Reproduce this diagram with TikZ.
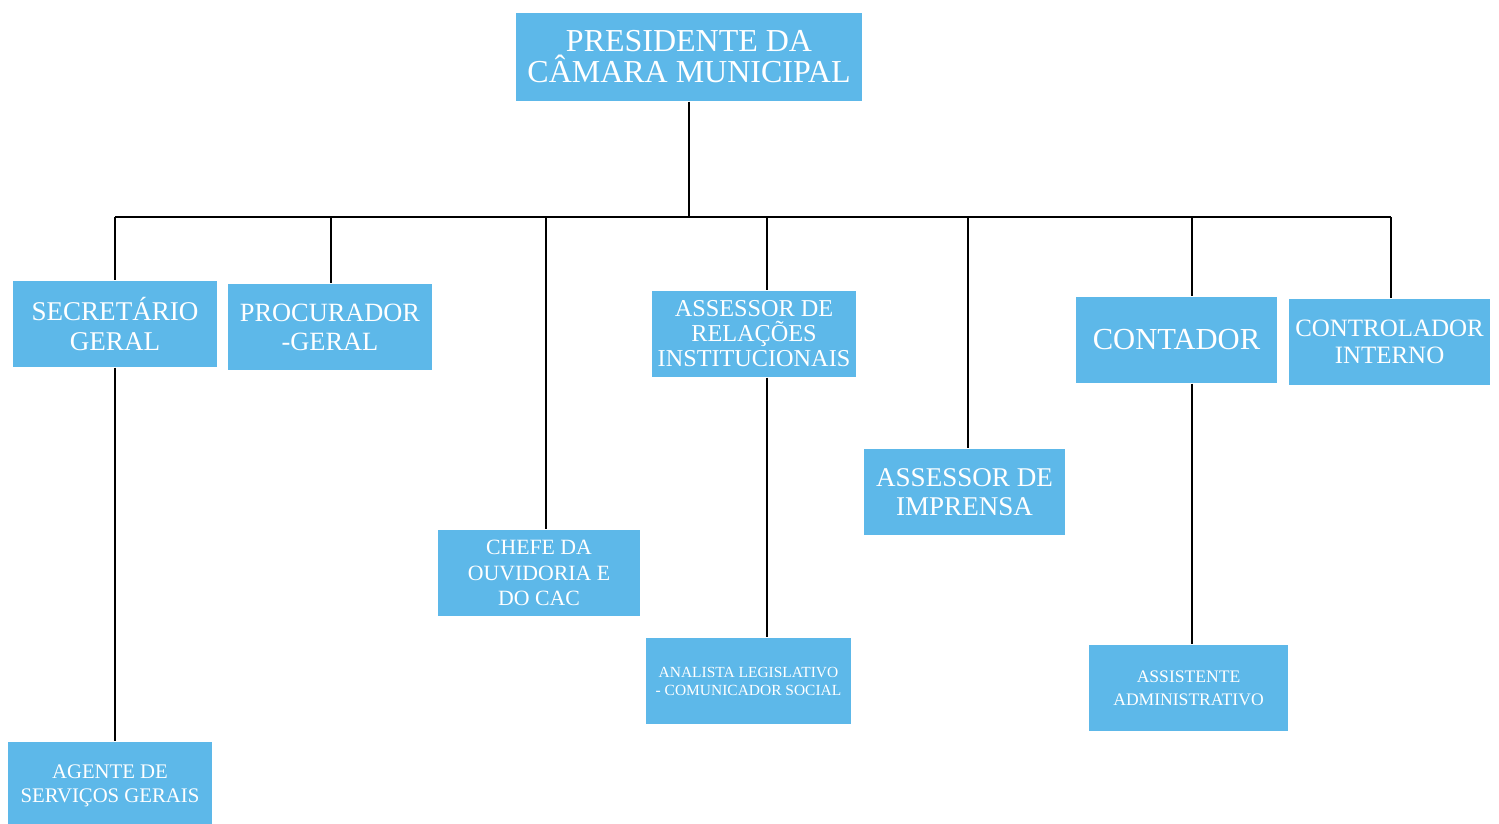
\documentclass[tikz,border=0pt]{standalone}
\usepackage{fontspec}
\setmainfont{Liberation Serif}
\usetikzlibrary{positioning, calc}
\definecolor{boxblue}{RGB}{93,184,233}

\begin{document}
\begin{tikzpicture}[
    box/.style={rectangle, fill=boxblue, text=white, align=center, inner sep=0pt, minimum width=2.04cm, minimum height=0.86cm},
    link/.style={line width=0.7pt, black}
]
    \useasboundingbox (0,0) rectangle (14.99,-8.23);

    % Top box
    \node[box, minimum width=3.46cm, minimum height=0.88cm, font=\fontsize{9.1}{8.8}\selectfont] (pres) at (6.89,-0.57) {PRESIDENTE DA\\CÂMARA MUNICIPAL};

    % --- First level ---
    \node[box, font=\fontsize{7.7}{8.3}\selectfont] (sec) at (1.15,-3.24) {SECRETÁRIO\\GERAL};
    \node[box, font=\fontsize{7.5}{8.3}\selectfont] (proc) at (3.30,-3.27) {PROCURADOR\\-GERAL};
    \node[box, minimum width=2.02cm, font=\fontsize{6.2}{7.3}\selectfont] (chefe) at (5.39,-5.73) {CHEFE DA\\OUVIDORIA E\\DO CAC};
    \node[box, font=\fontsize{6.9}{7.1}\selectfont] (arel) at (7.54,-3.34) {ASSESSOR DE\\RELAÇÕES\\INSTITUCIONAIS};
    \node[box, minimum width=2.01cm, font=\fontsize{7.7}{8.4}\selectfont] (imp) at (9.645,-4.92) {ASSESSOR DE\\IMPRENSA};
    \node[box, minimum width=2.01cm, font=\fontsize{8.7}{9}\selectfont] (cont) at (11.765,-3.40) {CONTADOR};
    \node[box, minimum width=2.01cm, font=\fontsize{7.1}{7.8}\selectfont] (ctrl) at (13.895,-3.42) {CONTROLADOR\\INTERNO};

    % --- Second level ---
    \node[box, minimum height=0.88cm, font=\fontsize{5.9}{6.8}\selectfont] (agen) at (1.10,-7.86) {AGENTE DE\\SERVIÇOS GERAIS};
    \node[box, minimum width=2.05cm, font=\fontsize{4.4}{5.1}\selectfont] (anal) at (7.485,-6.81) {ANALISTA LEGISLATIVO\\- COMUNICADOR SOCIAL};
    \node[box, minimum width=1.99cm, font=\fontsize{5}{6.5}\selectfont] (asst) at (11.885,-6.88) {ASSISTENTE\\ADMINISTRATIVO};

    % --- Bus line and taps ---
    \coordinate (busL) at (1.15,-2.17);
    \coordinate (busR) at (13.91,-2.17);
    \draw[link] (busL) -- (busR);
    \draw[link] (pres.south) -- (pres.south |- busL);

    \coordinate (tsec) at (1.15,-2.17);
    \coordinate (tproc) at (3.31,-2.17);
    \coordinate (tchefe) at (5.46,-2.17);
    \coordinate (tarel) at (7.67,-2.17);
    \coordinate (timp) at (9.68,-2.17);
    \coordinate (tcont) at (11.92,-2.17);
    \coordinate (tctrl) at (13.91,-2.17);

    \draw[link] (tsec) -- (tsec |- sec.north);
    \draw[link] (tproc) -- (tproc |- proc.north);
    \draw[link] (tchefe) -- (tchefe |- chefe.north);
    \draw[link] (tarel) -- (tarel |- arel.north);
    \draw[link] (timp) -- (timp |- imp.north);
    \draw[link] (tcont) -- (tcont |- cont.north);
    \draw[link] (tctrl) -- (tctrl |- ctrl.north);

    % Down links
    \draw[link] (tsec |- sec.south) -- (tsec |- agen.north);
    \draw[link] (tarel |- arel.south) -- (tarel |- anal.north);
    \draw[link] (tcont |- cont.south) -- (tcont |- asst.north);

\end{tikzpicture}
\end{document}
